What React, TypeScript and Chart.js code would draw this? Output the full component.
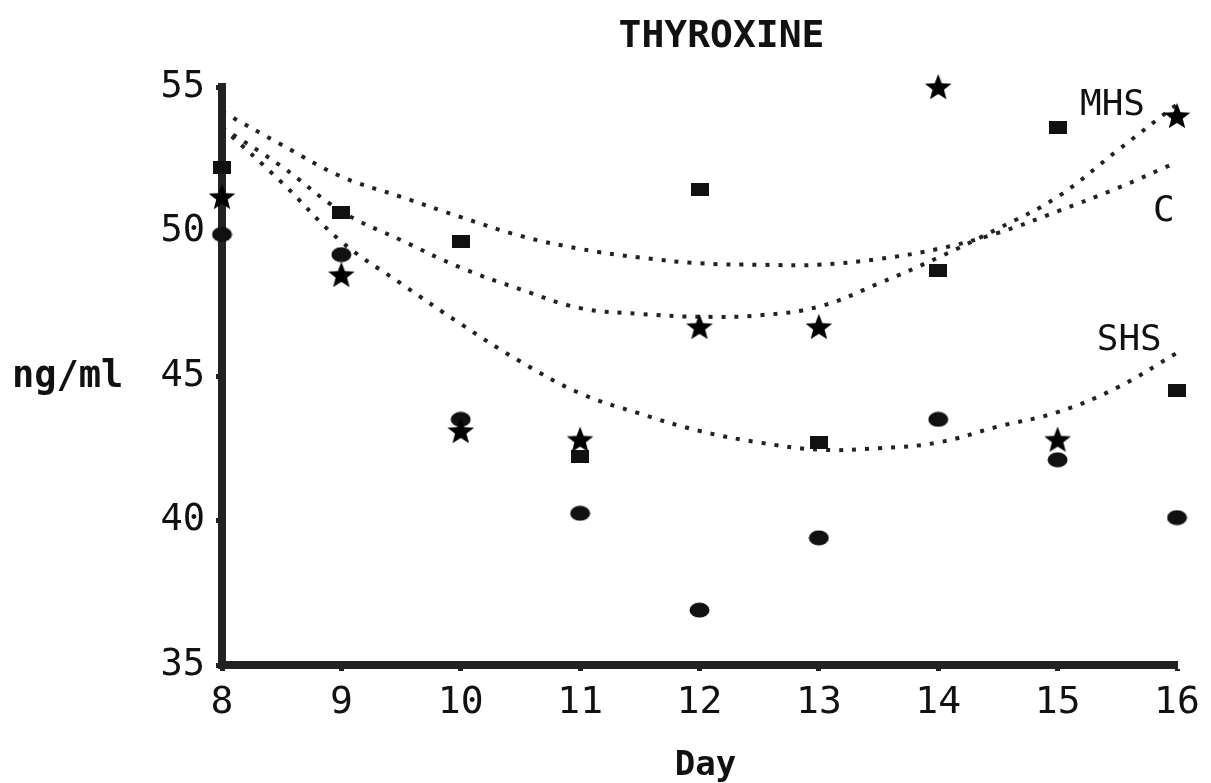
import React, { useEffect, useRef } from "react";
import { Chart, registerables } from "chart.js";

Chart.register(...registerables);

// ---------- text ----------
const chartTitle = "THYROXINE";
const xAxisLabel = "Day";
const yAxisLabel = "ng/ml";
const curveNames = ["MHS", "C", "SHS"];

// ---------- axes ----------
const xMin = 8;
const xMax = 16;
const yMin = 35;
const yMax = 55;
const yStep = 5;

// ---------- measured points ----------
const days = [8, 9, 10, 11, 12, 13, 14, 15, 16];
const squareValues = [52.2, 50.66, 49.65, 42.2, 51.45, 42.7, 48.65, 53.6, 44.5];
const starValues = [51.2, 48.5, 43.1, 42.8, 46.7, 46.7, 55.0, 42.8, 54.0];
const dotValues = [49.9, 49.2, 43.5, 40.25, 36.9, 39.4, 43.5, 42.1, 40.1];

// ---------- fitted curves ----------
const curveDays = [8, 8.5, 9, 9.5, 10, 10.5, 11, 11.5, 12, 12.5, 13, 13.5, 14, 14.5, 15, 15.5, 16];
const curveC = [54.15, 53.0, 51.9, 51.2, 50.5, 49.85, 49.4, 49.1, 48.9, 48.85, 48.85, 49.05, 49.4, 49.95, 50.7, 51.5, 52.4];
const curveMHS = [53.6, 52.25, 50.7, 49.7, 48.75, 48.0, 47.35, 47.15, 47.05, 47.1, 47.4, 48.2, 49.1, 50.1, 51.2, 52.8, 54.4];
const curveSHS = [53.6, 51.7, 49.65, 48.2, 46.8, 45.5, 44.4, 43.7, 43.1, 42.7, 42.45, 42.5, 42.7, 43.25, 43.75, 44.6, 45.8];

// label anchors in data units (day, ng/ml)
const curveLabelDays = [15.46, 15.89, 15.6];
const curveLabelValues = [54.48, 50.81, 46.35];

const INK = "#111";
const MONO = '"DejaVu Sans Mono", "Liberation Mono", monospace';

function makeSquare(): HTMLCanvasElement {
  const c = document.createElement("canvas");
  c.width = 18;
  c.height = 13;
  const g = c.getContext("2d")!;
  g.fillStyle = INK;
  g.fillRect(0, 0, 18, 13);
  return c;
}

function makeStar(): HTMLCanvasElement {
  const r = 14;
  const ri = 6;
  const c = document.createElement("canvas");
  c.width = 2 * r + 2;
  c.height = 2 * r + 2;
  const g = c.getContext("2d")!;
  g.fillStyle = "#000";
  g.beginPath();
  for (let i = 0; i < 10; i++) {
    const rad = i % 2 === 0 ? r : ri;
    const a = -Math.PI / 2 + (i * Math.PI) / 5;
    const px = r + 1 + rad * Math.cos(a);
    const py = r + 2 + rad * Math.sin(a);
    if (i === 0) g.moveTo(px, py);
    else g.lineTo(px, py);
  }
  g.closePath();
  g.fill();
  return c;
}

function makeBlob(): HTMLCanvasElement {
  const c = document.createElement("canvas");
  c.width = 21;
  c.height = 16;
  const g = c.getContext("2d")!;
  g.fillStyle = INK;
  g.beginPath();
  g.ellipse(10.5, 8, 10, 7.5, 0, 0, Math.PI * 2);
  g.fill();
  return c;
}

const textPlugin = {
  id: "extraText",
  afterDraw(chart: any) {
    const ctx = chart.ctx as CanvasRenderingContext2D;
    const xs = chart.scales.x;
    const ys = chart.scales.y;
    const area = chart.chartArea;
    ctx.save();
    ctx.fillStyle = INK;
    ctx.textBaseline = "alphabetic";

    // title
    ctx.font = `bold 38px ${MONO}`;
    ctx.textAlign = "center";
    ctx.fillText(chartTitle, (area.left + area.right) / 2 + 22, area.top - 40);

    // x axis title
    ctx.font = `bold 34px ${MONO}`;
    ctx.fillText(xAxisLabel, (area.left + area.right) / 2 + 6, area.bottom + 110);

    // y axis title (horizontal, level with the 45 tick)
    ctx.font = `bold 37px ${MONO}`;
    ctx.textAlign = "left";
    ctx.fillText(yAxisLabel, 12, ys.getPixelForValue(45) + 11);

    // curve labels
    ctx.font = `36px ${MONO}`;
    ctx.textAlign = "center";
    for (let i = 0; i < curveNames.length; i++) {
      ctx.fillText(
        curveNames[i],
        xs.getPixelForValue(curveLabelDays[i]),
        ys.getPixelForValue(curveLabelValues[i]) + 13
      );
    }
    ctx.restore();
  },
};

export default function App() {
  const canvasRef = useRef<HTMLCanvasElement | null>(null);

  useEffect(() => {
    if (!canvasRef.current) return;
    const sq = makeSquare();
    const st = makeStar();
    const bl = makeBlob();

    const pts = (xv: number[], yv: number[]) => xv.map((x, i) => ({ x, y: yv[i] }));

    const markerDs = (label: string, values: number[], style: HTMLCanvasElement) => ({
      label,
      data: pts(days, values),
      showLine: false,
      pointStyle: style,
      pointRadius: 10,
      pointHoverRadius: 10,
      clip: false as any,
    });

    const curveDs = (label: string, values: number[]) => ({
      label,
      data: pts(curveDays, values),
      showLine: true,
      borderColor: "#222",
      borderWidth: 4,
      borderDash: [4, 9],
      borderCapStyle: "butt" as const,
      tension: 0.4,
      pointRadius: 0,
      pointHoverRadius: 0,
      fill: false,
      clip: false as any,
    });

    const chart = new Chart(canvasRef.current, {
      type: "scatter",
      data: {
        datasets: [
          markerDs("Stars", starValues, st),
          markerDs("Squares", squareValues, sq),
          markerDs("Dots", dotValues, bl),
          curveDs("MHS fit", curveMHS),
          curveDs("C fit", curveC),
          curveDs("SHS fit", curveSHS),
        ] as any,
      },
      options: {
        animation: false,
        responsive: true,
        maintainAspectRatio: false,
        layout: { padding: { top: 87, right: 34, left: 0, bottom: 0 } },
        plugins: {
          legend: { display: false },
          title: { display: false },
          tooltip: { enabled: false },
        },
        scales: {
          x: {
            type: "linear",
            min: xMin,
            max: xMax,
            afterFit: (s: any) => {
              s.height = 118;
            },
            border: { display: true, color: "#222", width: 8 },
            grid: {
              display: true,
              drawOnChartArea: false,
              drawTicks: true,
              tickLength: 6,
              tickWidth: 5,
              tickColor: "#222",
            },
            ticks: {
              stepSize: 1,
              color: INK,
              padding: 9,
              font: { family: MONO, size: 38 },
              maxRotation: 0,
              autoSkip: false,
            },
          },
          y: {
            type: "linear",
            min: yMin,
            max: yMax,
            afterFit: (s: any) => {
              s.width = 222;
            },
            border: { display: true, color: "#222", width: 8 },
            grid: {
              display: true,
              drawOnChartArea: false,
              drawTicks: true,
              tickLength: 6,
              tickWidth: 5,
              tickColor: "#222",
            },
            ticks: {
              stepSize: yStep,
              color: INK,
              padding: 11,
              font: { family: MONO, size: 37 },
            },
          },
        },
      },
      plugins: [textPlugin],
    });

    return () => chart.destroy();
  }, []);

  return (
    <div style={{ position: "absolute", left: 0, top: 0, width: 1211, height: 783, background: "#fff" }}>
      <canvas ref={canvasRef} />
    </div>
  );
}
